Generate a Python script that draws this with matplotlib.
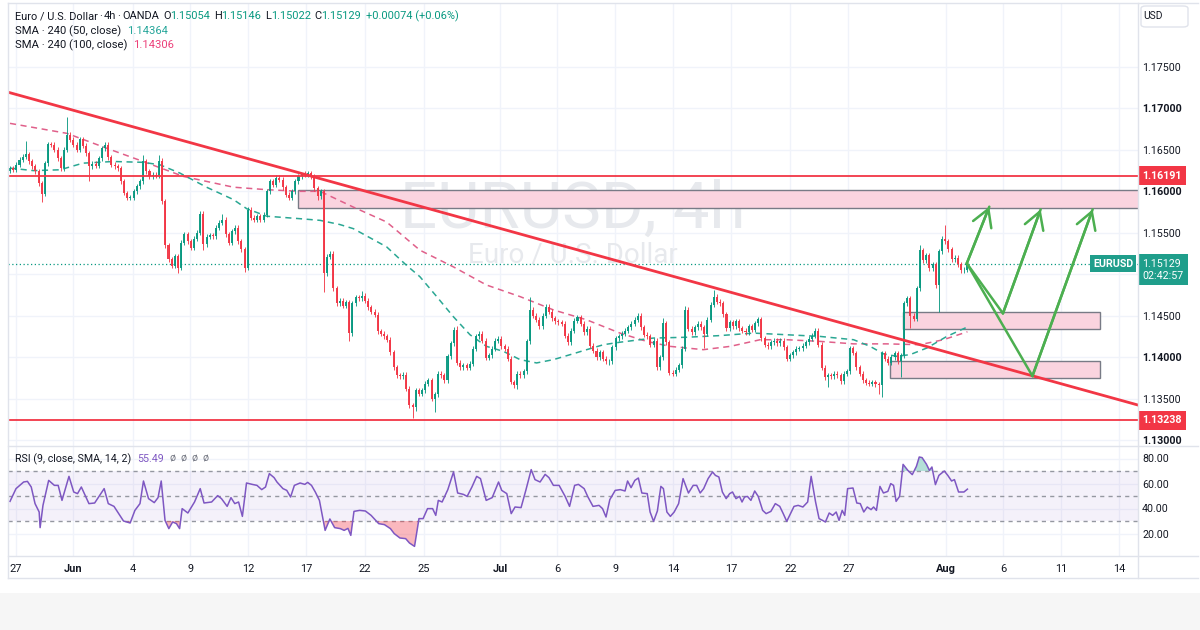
import matplotlib
matplotlib.use('Agg')
import matplotlib.pyplot as plt
import numpy as np
from matplotlib.patches import Rectangle, FancyBboxPatch
from matplotlib.lines import Line2D

plt.rcParams['font.family'] = ['Roboto', 'DejaVu Sans']

# ---------------- data ----------------
first_open = 1.1625
closes = [
    1.1628, 1.1626, 1.1632, 1.1638, 1.1642, 1.1645, 1.1636, 1.1630, 1.1624, 1.1610,
    1.1597, 1.1634, 1.1657, 1.1656, 1.1650, 1.1640, 1.1628, 1.1650, 1.1668, 1.1662,
    1.1656, 1.1650, 1.1663, 1.1655, 1.1646, 1.1630, 1.1633, 1.1631, 1.1640, 1.1652,
    1.1656, 1.1641, 1.1632, 1.1630, 1.1628, 1.1612, 1.1598, 1.1592, 1.1592, 1.1600,
    1.1606, 1.1612, 1.1636, 1.1624, 1.1618, 1.1620, 1.1619, 1.1637, 1.1588, 1.1535,
    1.1518, 1.1510, 1.1522, 1.1508, 1.1538, 1.1548, 1.1540, 1.1532, 1.1543, 1.1550,
    1.1573, 1.1536, 1.1545, 1.1547, 1.1546, 1.1556, 1.1562, 1.1566, 1.1548, 1.1538,
    1.1552, 1.1556, 1.1540, 1.1530, 1.1508, 1.1578, 1.1568, 1.1566, 1.1570, 1.1566,
    1.1572, 1.1600, 1.1612, 1.1608, 1.1616, 1.1614, 1.1605, 1.1596, 1.1592, 1.1600,
    1.1612, 1.1618, 1.1621, 1.1620, 1.1622, 1.1618, 1.1604, 1.1594, 1.1600, 1.1501,
    1.1521, 1.1525, 1.1483, 1.1465, 1.1468, 1.1462, 1.1466, 1.1429, 1.1465, 1.1472,
    1.1471, 1.1474, 1.1468, 1.1460, 1.1455, 1.1451, 1.1431, 1.1428, 1.1425, 1.1421,
    1.1406, 1.1388, 1.1378, 1.1377, 1.1379, 1.1362, 1.1342, 1.1340, 1.1360, 1.1356,
    1.1360, 1.1368, 1.1372, 1.1350, 1.1355, 1.1380, 1.1378, 1.1372, 1.1401, 1.1417,
    1.1433, 1.1393, 1.1388, 1.1390, 1.1387, 1.1392, 1.1410, 1.1425, 1.1428, 1.1420,
    1.1399, 1.1402, 1.1410, 1.1420, 1.1422, 1.1413, 1.1410, 1.1398, 1.1370, 1.1366,
    1.1380, 1.1378, 1.1383, 1.1419, 1.1457, 1.1450, 1.1445, 1.1437, 1.1450, 1.1461,
    1.1455, 1.1447, 1.1443, 1.1442, 1.1440, 1.1426, 1.1418, 1.1432, 1.1444, 1.1448,
    1.1440, 1.1430, 1.1434, 1.1414, 1.1408, 1.1400, 1.1406, 1.1398, 1.1395, 1.1395,
    1.1412, 1.1423, 1.1425, 1.1428, 1.1432, 1.1436, 1.1440, 1.1445, 1.1450, 1.1436,
    1.1427, 1.1425, 1.1415, 1.1420, 1.1388, 1.1400, 1.1441, 1.1418, 1.1381, 1.1380,
    1.1385, 1.1390, 1.1410, 1.1457, 1.1434, 1.1430, 1.1436, 1.1440, 1.1436, 1.1428,
    1.1445, 1.1463, 1.1473, 1.1467, 1.1465, 1.1452, 1.1435, 1.1442, 1.1437, 1.1443,
    1.1435, 1.1432, 1.1430, 1.1437, 1.1433, 1.1441, 1.1446, 1.1423, 1.1415, 1.1413,
    1.1418, 1.1420, 1.1417, 1.1420, 1.1412, 1.1398, 1.1402, 1.1406, 1.1410, 1.1411,
    1.1414, 1.1418, 1.1422, 1.1426, 1.1432, 1.1415, 1.1387, 1.1376, 1.1378, 1.1377,
    1.1380, 1.1378, 1.1371, 1.1380, 1.1383, 1.1411, 1.1405, 1.1388, 1.1380, 1.1372,
    1.1369, 1.1368, 1.1370, 1.1367, 1.1366, 1.1405, 1.1398, 1.1393, 1.1400, 1.1405,
    1.1395, 1.1402, 1.1465, 1.1471, 1.1450, 1.1446, 1.1483, 1.1529, 1.1517, 1.1523,
    1.1507, 1.1512, 1.1487, 1.1528, 1.1543, 1.1540, 1.1530, 1.1518, 1.1520, 1.1512,
    1.1505, 1.15054, 1.15129,
]
high_spikes = {5: 1.1661, 18: 1.1690, 42: 1.1644, 47: 1.1644, 60: 1.1576, 67: 1.1573,
               84: 1.1620, 85: 1.1620, 92: 1.1622, 111: 1.1480, 141: 1.1437, 164: 1.1473,
               169: 1.1464, 206: 1.1447, 213: 1.1462, 222: 1.1481, 236: 1.1448, 254: 1.1435,
               287: 1.1535, 295: 1.1559, 302: 1.15146}
low_spikes = {10: 1.1587, 25: 1.1612, 53: 1.1501, 61: 1.1529, 74: 1.1503, 97: 1.1590,
              99: 1.1479, 107: 1.1419, 127: 1.1327, 128: 1.1335, 134: 1.1334, 160: 1.1362,
              189: 1.1390, 219: 1.1411, 258: 1.1364, 274: 1.1356, 275: 1.1352, 281: 1.1376,
              284: 1.1435, 293: 1.1455, 302: 1.15022}
WICK = 0.0003

sma50_x = [0, 7.4, 15.8, 23, 32.6, 42, 47.3, 53.6, 62, 70.5, 74.7, 81, 91.5, 97.8, 104,
           108.3, 118.8, 125, 129.3, 134.6, 139.8, 145.1, 150.3, 155.6, 160.9, 166.1, 171.4,
           176.7, 181.9, 187.2, 192.4, 198.7, 202.9, 213.5, 224, 234.5, 245, 255.5, 266.1,
           271.3, 275.5, 279.7, 283.9, 289.2, 295.5, 302]
sma50_y = [1.1628, 1.1625, 1.1626, 1.1634, 1.1636, 1.1635, 1.1632, 1.1622, 1.1605, 1.1590,
           1.1579, 1.1570, 1.1567, 1.1565, 1.1560, 1.1555, 1.1533, 1.1511, 1.1497, 1.1473,
           1.1449, 1.1427, 1.1413, 1.1407, 1.1397, 1.1393, 1.1397, 1.1403, 1.1409, 1.1415,
           1.1418, 1.1421, 1.1423, 1.1424, 1.1426, 1.1429, 1.1427, 1.1425, 1.1421, 1.1413,
           1.1404, 1.1401, 1.1403, 1.1411, 1.1425, 1.14364]
sma100_x = [0, 17.9, 30.5, 42, 54.7, 70.5, 81, 91.5, 97.8, 108.3, 118.8, 129.3, 139.8,
            150.3, 160.9, 171.4, 181.9, 192.4, 200.8, 208.2, 218.7, 227.2, 236.6, 245,
            255.5, 266.1, 276.6, 287, 294.4, 302]
sma100_y = [1.1682, 1.1670, 1.1652, 1.1636, 1.1618, 1.1605, 1.1602, 1.1600, 1.1600, 1.1581,
            1.1563, 1.1529, 1.1509, 1.1487, 1.1473, 1.1457, 1.1445, 1.1429, 1.1419, 1.1413,
            1.1409, 1.1413, 1.1421, 1.1421, 1.1419, 1.1416, 1.1416, 1.1415, 1.1421, 1.14306]

rsi_x = [0, 1.9, 4.3, 5.5, 6.7, 7.9, 9.2, 9.5, 10.4, 12.2, 14.0, 15.2, 16.4, 18.6, 20.1,
         21.3, 22.5, 24.9, 26.7, 29.7, 31.0, 32.8, 35.8, 37.9, 39.4, 41.0, 42.1, 43.7, 45.5,
         46.7, 47.7, 48.9, 50.1, 51.3, 52.5, 53.5, 54.3, 56.1, 58.2, 60.0, 61.2, 63.6, 65.5,
         66.7, 68.5, 69.7, 70.9, 72.1, 73.3, 74.6, 76.4, 77.9, 79.4, 80.6, 81.8, 83.3, 84.2,
         86.1, 87.3, 88.5, 89.7, 91.5, 93.0, 93.9, 95.1, 96.3, 97.6, 99.4, 100.9, 102.4,
         104.2, 105.4, 106.6, 107.5, 108.5, 110.3, 112.1, 113.9, 116.3, 118.1, 120.0, 121.2,
         123.0, 124.8, 126.0, 127.6, 129.0, 130.3, 131.7, 133.3, 134.3, 135.1, 136.3, 138.1,
         139.9, 141.2, 143.0, 144.2, 145.7, 147.2, 148.4, 150.2, 152.1, 154.1, 155.1, 156.7,
         158.1, 159.3, 161.2, 162.7, 164.4, 165.6, 167.2, 168.8, 170.0, 171.4, 173.2, 175.1,
         176.5, 178.1, 179.3, 181.1, 182.3, 183.9, 185.8, 186.9, 188.0, 189.2, 190.9, 192.5,
         194.0, 194.8, 195.9, 197.1, 198.2, 199.3, 201.0, 201.9, 203.0, 204.2, 205.3, 206.1,
         207.2, 208.3, 209.5, 210.9, 212.3, 214.0, 215.5, 216.6, 217.7, 218.8, 220.2, 221.6,
         222.5, 223.6, 224.7, 225.9, 227.0, 227.9, 229.0, 230.1, 230.9, 231.7, 232.6, 233.7,
         234.9, 236.0, 237.4, 238.5, 240.0, 241.4, 242.8, 243.9, 245.0, 246.2, 247.3, 248.6,
         250.1, 251.6, 252.7, 254.1, 255.2, 256.3, 257.2, 258.4, 259.5, 260.6, 261.5, 262.5,
         263.3, 264.2, 265.9, 267.1, 268.2, 269.3, 270.4, 271.6, 272.4, 273.3, 274.4, 275.5,
         276.9, 277.8, 278.7, 279.5, 280.6, 281.7, 283.2, 284.6, 285.9, 286.8, 287.7, 289.1,
         290.0, 290.8, 291.9, 293.0, 294.7, 295.8, 297.0, 297.9, 299.2, 300.9, 302.0]
rsi_y = [45.7, 55.9, 61.2, 61.7, 57.2, 43.9, 37.2, 24.7, 42.5, 62.5, 58.5, 58.5, 46.5, 65.7,
         53.2, 51.9, 57.2, 43.9, 44.4, 55.9, 43.9, 41.7, 30.0, 28.4, 38.5, 43.9, 62.0, 47.9,
         44.7, 48.7, 62.0, 30.5, 23.9, 29.2, 27.9, 23.9, 39.9, 36.4, 45.2, 55.9, 44.4, 45.2,
         50.3, 47.9, 41.7, 48.7, 43.9, 45.2, 33.7, 60.4, 59.3, 58.5, 55.1, 57.2, 67.9, 64.7,
         61.2, 55.9, 54.5, 49.2, 58.5, 60.4, 59.3, 60.9, 58.5, 53.2, 46.5, 22.5, 31.6, 24.7,
         23.9, 22.5, 24.1, 18.5, 37.7, 38.5, 38.0, 34.5, 27.9, 27.1, 23.9, 19.9, 16.4, 15.9,
         12.4, 9.7, 31.9, 31.9, 39.9, 39.9, 34.5, 46.5, 45.2, 55.1, 69.2, 52.4, 51.3, 49.7,
         57.2, 65.7, 63.9, 46.5, 48.7, 61.2, 54.5, 51.9, 35.9, 41.2, 40.7, 54.5, 71.1, 63.1,
         61.2, 67.3, 64.7, 58.5, 58.5, 49.7, 41.7, 58.5, 59.3, 55.9, 49.2, 41.7, 42.5, 39.9,
         33.2, 47.1, 54.5, 55.1, 54.0, 62.0, 56.7, 62.5, 64.4, 52.4, 51.9, 37.2, 29.7, 38.0,
         57.7, 55.9, 37.2, 33.7, 37.2, 43.9, 63.9, 52.4, 58.5, 58.5, 52.4, 55.9, 63.9, 69.2,
         66.5, 65.2, 53.2, 47.9, 51.9, 53.2, 47.9, 49.7, 45.2, 49.2, 49.7, 46.5, 54.0, 49.7,
         38.5, 35.9, 37.7, 43.9, 41.7, 35.9, 29.7, 35.9, 41.7, 42.5, 41.2, 45.2, 65.7, 45.2,
         31.9, 30.5, 29.2, 36.4, 34.5, 37.2, 30.5, 38.5, 34.5, 55.9, 56.4, 44.4, 43.9, 37.2,
         41.2, 39.1, 41.2, 38.5, 57.7, 52.4, 53.7, 59.9, 58.5, 45.7, 49.7, 75.3, 70.5, 67.1,
         73.7, 81.2, 80.7, 75.3, 70.5, 73.2, 59.1, 66.5, 70.0, 66.5, 62.0, 63.1, 53.2, 53.2,
         55.49]

trend_x = [-1, 356]
trend_y = [1.1720, 1.1342]
levels = [1.16191, 1.13238]
last_price = 1.15129
# zones: (x_start, x_end, low, high)
zones = [(90.8, 400, 1.15805, 1.16020),
         (281.8, 343.8, 1.14336, 1.14541),
         (277.6, 343.8, 1.13744, 1.13957)]
proj_paths = [
    [(301.8, 1.15131), (308.9, 1.15815)],
    [(301.8, 1.15131), (313.2, 1.14528), (325.1, 1.15783)],
    [(301.8, 1.15131), (322.5, 1.13772), (341.5, 1.15783)],
]
date_pos = [1.9, 19.9, 38.8, 56.8, 75.1, 93.4, 112, 130.6, 154.6, 172.6, 190.9, 209.1,
            227.4, 246.1, 264.4, 295.3, 313.2, 331.5, 349.8]
date_lab = ['27', 'Jun', '4', '9', '12', '17', '22', '25', 'Jul', '6', '9', '14', '17',
            '22', '27', 'Aug', '6', '11', '14']
price_ticks = [1.130, 1.135, 1.140, 1.145, 1.150, 1.155, 1.160, 1.165, 1.170, 1.175]
rsi_ticks = [20, 40, 60, 80]

# ---------------- style ----------------
W, H = 1200, 630
UP = '#089981'
DN = '#f23645'
GRID = '#f0f3fa'
BORDER = '#e0e3eb'
TXT = '#131722'
TEAL = '#1f9e8b'
GREEN_ARR = '#4caf50'
XL = (-0.63, 355.8)
AXFS = 7.7

fig = plt.figure(figsize=(12, 6.3), dpi=100)
fig.patch.set_facecolor('white')


def fx(px):
    return px / W


def fy(py):
    return 1 - py / H


ax = fig.add_axes([fx(8), fy(446), fx(1130), 443 / H])
axr = fig.add_axes([fx(8), fy(556), fx(1130), 110 / H])

for a in (ax, axr):
    a.set_xlim(*XL)
    for s in a.spines.values():
        s.set_visible(False)
    a.set_facecolor('none')
    a.tick_params(axis='both', length=0)
    a.yaxis.tick_right()
    for p in date_pos:
        a.axvline(p, color=GRID, lw=1, zorder=0)

ax.set_ylim(1.12928, 1.18272)
axr.set_ylim(2, 90)

# horizontal grid
for p in price_ticks:
    ax.axhline(p, color=GRID, lw=1, zorder=0)
for r in rsi_ticks:
    axr.axhline(r, color=GRID, lw=1, zorder=0)

# watermark
ax.text(0.5, 0.492, 'EURUSD, 4h', transform=ax.transAxes, ha='center', va='baseline',
        fontsize=47, color='#e7e9ed', zorder=0.5)
ax.text(0.5, 0.415, 'Euro / U.S. Dollar', transform=ax.transAxes, ha='center', va='baseline',
        fontsize=20, color='#e7e9ed', zorder=0.5)

# price ticks on right
ax.set_yticks(price_ticks)
ax.set_yticklabels(['' if abs(p - 1.15) < 1e-9 else f'{p:.5f}' for p in price_ticks])
ax.tick_params(axis='y', pad=3, labelsize=AXFS, labelcolor=TXT)
for lab, p in zip(ax.get_yticklabels(), price_ticks):
    if abs(round(p * 100) - p * 100) < 1e-6:
        lab.set_fontweight('bold')
ax.set_xticks([])

# zones
for x0, x1, lo, hi in zones:
    ax.add_patch(Rectangle((x0, lo), x1 - x0, hi - lo, facecolor='#fad4df',
                           edgecolor='#787b86', lw=1.0, zorder=1.5))

# horizontal levels
for lv in levels:
    ax.axhline(lv, color=DN, lw=1.3, zorder=3)

# SMAs
ax.plot(sma100_x, sma100_y, color='#e0608a', lw=1.1, ls=(0, (4, 3)), zorder=2)
ax.plot(sma50_x, sma50_y, color='#2aa793', lw=1.1, ls=(0, (4, 3)), zorder=2)

# candles
c = np.array(closes)
o = np.array([first_open] + closes[:-1])
n = len(c)
idx = np.arange(n)
top = np.maximum(o, c)
bot = np.minimum(o, c)
highs = np.array([max(high_spikes.get(i, top[i] + WICK), top[i]) for i in range(n)])
lows = np.array([min(low_spikes.get(i, bot[i] - WICK), bot[i]) for i in range(n)])
cols = np.where(c >= o, UP, DN)
ax.vlines(idx, lows, highs, colors=cols, lw=0.7, zorder=2.5, alpha=0.9)
ax.bar(idx, np.maximum(top - bot, 0.00006), bottom=bot, width=0.64, color=cols,
       linewidth=0, zorder=2.6, alpha=0.95)

# trend line
ax.plot(trend_x, trend_y, color=DN, lw=2.0, zorder=3.2, solid_capstyle='butt')

# last price dotted
ax.axhline(last_price, color=UP, lw=0.9, ls=(0, (1, 2)), zorder=2)

# projection arrows
for path in proj_paths:
    xs = [p[0] for p in path]
    ys = [p[1] for p in path]
    ax.plot(xs[:-1], ys[:-1], color=GREEN_ARR, lw=1.8, zorder=4, solid_capstyle='round')
    ax.plot(xs[-2:], ys[-2:], color=GREEN_ARR, lw=1.8, zorder=4, solid_capstyle='round')
    ax.annotate('', xy=path[-1], xytext=path[-2],
                arrowprops=dict(arrowstyle='->,head_length=0.55,head_width=0.32',
                                color=GREEN_ARR, lw=1.8, mutation_scale=22,
                                shrinkA=0, shrinkB=0), zorder=4)


# axis price tags
def tag(axis, yval, txt, fc, bold=True):
    axis.annotate(txt, xy=(1.0, yval), xycoords=('axes fraction', 'data'),
                  xytext=(3.2, 0), textcoords='offset points', ha='left', va='center',
                  fontsize=AXFS, color='white', fontweight='bold' if bold else 'normal',
                  bbox=dict(boxstyle='square,pad=0.4', fc=fc, ec='none'),
                  zorder=10, annotation_clip=False, linespacing=1.25)


tag(ax, levels[0], '1.16191', DN)
tag(ax, levels[1], '1.13238', DN)
tag(ax, last_price - 0.00075, '1.15129\n02:42:57', TEAL, bold=False)
ax.annotate('EURUSD', xy=(1.0, last_price), xycoords=('axes fraction', 'data'),
            xytext=(-3.5, 0), textcoords='offset points', ha='right', va='center',
            fontsize=AXFS, color='white', fontweight='bold',
            bbox=dict(boxstyle='square,pad=0.3', fc=TEAL, ec='none'), zorder=10,
            annotation_clip=False)

# ---------------- RSI ----------------
rx = np.array(rsi_x)
ry = np.array(rsi_y)
axr.axhspan(30, 70, color='#7e57c2', alpha=0.08, lw=0, zorder=0.5)
for lv in (70, 50, 30):
    axr.axhline(lv, color='#9598a1', lw=1.0, ls=(0, (3, 3)), zorder=1)
axr.fill_between(rx, ry, 30, where=ry < 30, interpolate=True, color=DN, alpha=0.35,
                 lw=0, zorder=1.5)
axr.fill_between(rx, ry, 70, where=ry > 70, interpolate=True, color=UP, alpha=0.3,
                 lw=0, zorder=1.5)
axr.plot(rx, ry, color='#7e57c2', lw=1.1, zorder=2)
axr.set_yticks(rsi_ticks)
axr.set_yticklabels([f'{r:.2f}' for r in rsi_ticks])
axr.tick_params(axis='y', pad=3, labelsize=AXFS, labelcolor=TXT)
axr.set_xticks(date_pos)
axr.set_xticklabels(date_lab)
axr.tick_params(axis='x', pad=6, labelsize=7.9, labelcolor=TXT)
for lab, t in zip(axr.get_xticklabels(), date_lab):
    if t in ('Jun', 'Jul', 'Aug'):
        lab.set_fontweight('bold')


# ---------------- frame lines ----------------
def fline(x0, y0, x1, y1, col=BORDER, lw=1.0):
    fig.add_artist(Line2D([fx(x0), fx(x1)], [fy(y0), fy(y1)], color=col, lw=lw,
                          transform=fig.transFigure))


fline(8, 3, 1198, 3)
fline(8, 3, 8, 578)
fline(8, 446, 1198, 446)
fline(8, 556, 1198, 556)
fline(8, 578, 1198, 578)
fline(1138, 3, 1138, 578)
fig.add_artist(Rectangle((0, 0), 1, fy(593), transform=fig.transFigure,
                         facecolor='#f6f6f6', edgecolor='none', zorder=-5))

# USD box
fig.add_artist(FancyBboxPatch((fx(1141), fy(27)), fx(47), 21 / H,
                              boxstyle='round,pad=0,rounding_size=0.004',
                              transform=fig.transFigure, fc='white', ec=BORDER, lw=1))
fig.text(fx(1153), fy(16), 'USD', ha='center', va='center', fontsize=7.4, color=TXT)

# ---------------- legend texts ----------------
renderer = fig.canvas.get_renderer()


def seq_text(x_px, y_px, parts, size=8.1):
    x = x_px
    for s, col, gap in parts:
        x += gap
        t = fig.text(fx(x), fy(y_px), s, color=col, fontsize=size, ha='left', va='center')
        bb = t.get_window_extent(renderer=renderer)
        x += bb.width


seq_text(15, 16, [('Euro / U.S. Dollar', TXT, 0), ('·', TXT, 1.5), ('4h', TXT, 1.5),
                  ('·', TXT, 1.5), ('OANDA', TXT, 1.5),
                  ('O', TXT, 4), ('1.15054', UP, 0),
                  ('H', TXT, 3.5), ('1.15146', UP, 0),
                  ('L', TXT, 3.5), ('1.15022', UP, 0),
                  ('C', TXT, 3.5), ('1.15129', UP, 0),
                  ('+0.00074 (+0.06%)', UP, 4.5)], size=7.9)
seq_text(15, 31, [('SMA · 240 (50, close)', TXT, 0), ('1.14364', '#26a69a', 6)])
seq_text(15, 45, [('SMA · 240 (100, close)', TXT, 0), ('1.14306', '#ec407a', 6)])
seq_text(15, 459, [('RSI (9, close, SMA, 14, 2)', TXT, 0), ('55.49', '#7e57c2', 6),
                   ('ø', '#787b86', 5), ('ø', '#787b86', 5), ('ø', '#787b86', 5),
                   ('ø', '#787b86', 5)], size=7.7)

fig.savefig('out.png', dpi=100, facecolor='white')
